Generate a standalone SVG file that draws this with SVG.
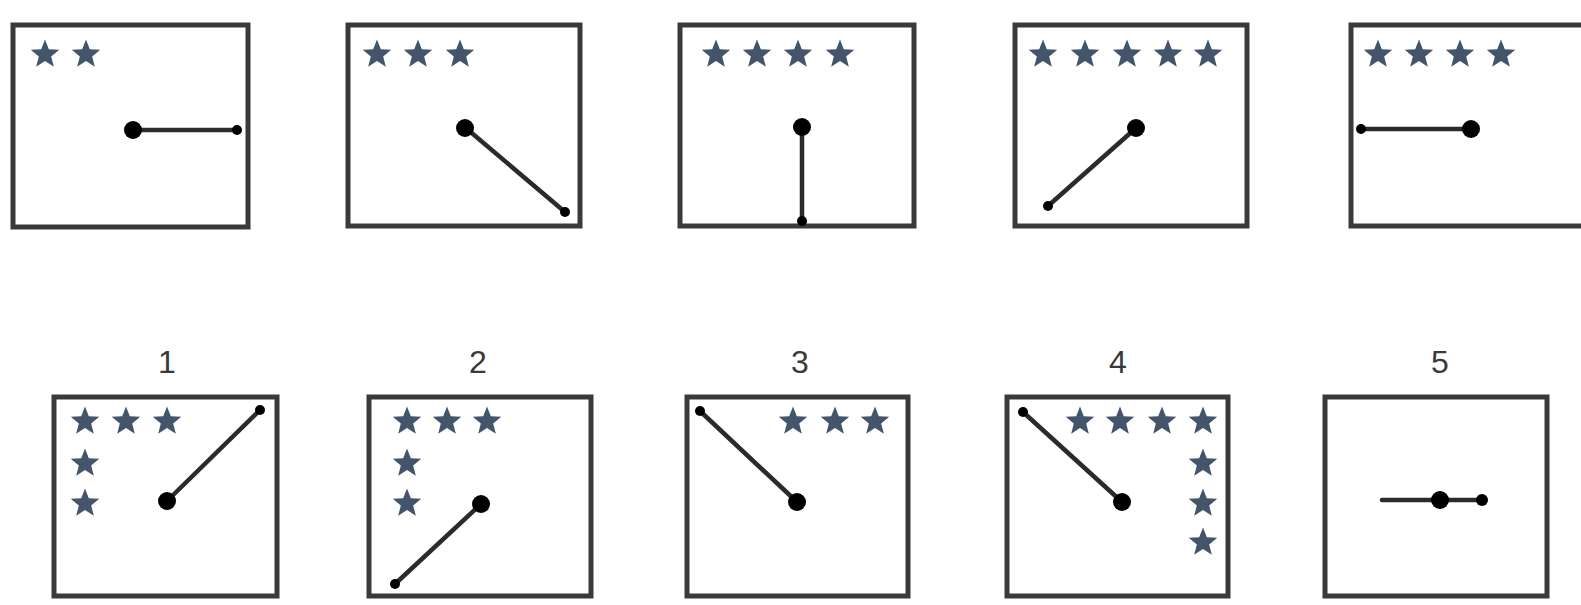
<svg xmlns="http://www.w3.org/2000/svg" xmlns:xlink="http://www.w3.org/1999/xlink" width="1581" height="605" viewBox="0 0 1581 605">
<style>
.box{fill:#fff;stroke:#3a3a3a;stroke-width:5}
.ln{stroke:#2b2b2b;stroke-width:4.5;stroke-linecap:round}
.big{fill:#000}
.sm{fill:#000}
.lbl{font-family:"Liberation Sans",Arial,sans-serif;font-size:32px;fill:#3a3a3a;text-anchor:middle}
.st{fill:#44546A}
</style>
<defs>
<path id="star" class="st" d="M0,-15 L3.82,-5.26 L14.27,-4.64 L6.18,2.01 L8.82,12.14 L0,6.5 L-8.82,12.14 L-6.18,2.01 L-14.27,-4.64 L-3.82,-5.26 Z" transform="translate(0,1.5)"/>
</defs>
<rect width="1581" height="605" fill="#fff"/>

<g id="top1">
<rect class="box" x="13" y="25" width="235" height="202"/>
<use href="#star" x="45" y="53"/><use href="#star" x="86" y="53"/>
<line class="ln" x1="133" y1="130" x2="237" y2="130"/>
<circle class="big" cx="133" cy="130" r="9"/><circle class="sm" cx="237" cy="130" r="5"/>
</g>
<g id="top2">
<rect class="box" x="348" y="25" width="232" height="201"/>
<use href="#star" x="377" y="53"/><use href="#star" x="418" y="53"/><use href="#star" x="460" y="53"/>
<line class="ln" x1="467" y1="129" x2="565" y2="212"/>
<circle class="big" cx="465" cy="128" r="9"/><circle class="sm" cx="565" cy="212" r="5"/>
</g>
<g id="top3">
<rect class="box" x="680" y="25" width="234" height="201"/>
<use href="#star" x="716" y="53"/><use href="#star" x="757" y="53"/><use href="#star" x="798" y="53"/><use href="#star" x="840" y="53"/>
<line class="ln" x1="802" y1="127" x2="802" y2="221"/>
<circle class="big" cx="802" cy="127" r="9"/><circle class="sm" cx="802" cy="221" r="5"/>
</g>
<g id="top4">
<rect class="box" x="1015" y="25" width="232" height="201"/>
<use href="#star" x="1043" y="53"/><use href="#star" x="1085" y="53"/><use href="#star" x="1127" y="53"/><use href="#star" x="1168" y="53"/><use href="#star" x="1208" y="53"/>
<line class="ln" x1="1136" y1="128" x2="1048" y2="206"/>
<circle class="big" cx="1136" cy="128" r="9"/><circle class="sm" cx="1048" cy="206" r="5"/>
</g>
<g id="top5">
<rect class="box" x="1351" y="25" width="236" height="201"/>
<use href="#star" x="1378" y="53"/><use href="#star" x="1419" y="53"/><use href="#star" x="1460" y="53"/><use href="#star" x="1501" y="53"/>
<line class="ln" x1="1361" y1="129" x2="1471" y2="129"/>
<circle class="big" cx="1471" cy="129" r="9"/><circle class="sm" cx="1361" cy="129" r="5"/>
</g>

<g id="bot1">
<text class="lbl" x="167" y="373">1</text>
<rect class="box" x="54" y="397" width="223" height="199"/>
<use href="#star" x="85" y="420"/><use href="#star" x="126" y="420"/><use href="#star" x="167" y="420"/>
<use href="#star" x="85" y="462"/><use href="#star" x="85" y="502"/>
<line class="ln" x1="167" y1="501" x2="260" y2="410"/>
<circle class="big" cx="167" cy="501" r="9"/><circle class="sm" cx="260" cy="410" r="5"/>
</g>
<g id="bot2">
<text class="lbl" x="478" y="373">2</text>
<rect class="box" x="369" y="397" width="222" height="199"/>
<use href="#star" x="407" y="420"/><use href="#star" x="447" y="420"/><use href="#star" x="487" y="420"/>
<use href="#star" x="407" y="462"/><use href="#star" x="407" y="502"/>
<line class="ln" x1="481" y1="504" x2="395" y2="584"/>
<circle class="big" cx="481" cy="504" r="9"/><circle class="sm" cx="395" cy="584" r="5"/>
</g>
<g id="bot3">
<text class="lbl" x="800" y="373">3</text>
<rect class="box" x="687" y="397" width="221" height="199"/>
<use href="#star" x="793" y="420"/><use href="#star" x="835" y="420"/><use href="#star" x="875" y="420"/>
<line class="ln" x1="700" y1="411" x2="797" y2="502"/>
<circle class="big" cx="797" cy="502" r="9"/><circle class="sm" cx="700" cy="411" r="5"/>
</g>
<g id="bot4">
<text class="lbl" x="1118" y="373">4</text>
<rect class="box" x="1007" y="397" width="221" height="199"/>
<use href="#star" x="1080" y="420"/><use href="#star" x="1120" y="420"/><use href="#star" x="1162" y="420"/><use href="#star" x="1203" y="420"/>
<use href="#star" x="1203" y="462"/><use href="#star" x="1203" y="502"/><use href="#star" x="1203" y="541"/>
<line class="ln" x1="1023" y1="412" x2="1122" y2="502"/>
<circle class="big" cx="1122" cy="502" r="9"/><circle class="sm" cx="1023" cy="412" r="5"/>
</g>
<g id="bot5">
<text class="lbl" x="1440" y="373">5</text>
<rect class="box" x="1325" y="397" width="222" height="199"/>
<line class="ln" x1="1382" y1="500" x2="1482" y2="500"/>
<circle class="big" cx="1440" cy="500" r="9"/><circle class="sm" cx="1482" cy="500" r="6"/>
</g>
</svg>
